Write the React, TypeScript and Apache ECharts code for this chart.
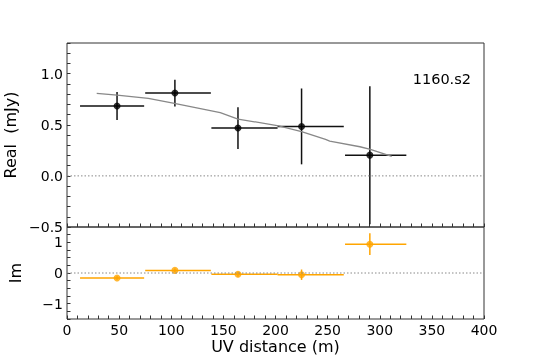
import React, { useEffect, useRef } from "react";
import * as echarts from "echarts";

// Binned visibilities
const uvDist = [48, 103.5, 164, 225, 290.5];
const binLo = [12.5, 75, 138.5, 202, 266.7];
const binHi = [74, 138, 202, 265.5, 325.5];
const realVals = [0.683, 0.81, 0.468, 0.484, 0.203];
const realErr = [0.137, 0.131, 0.204, 0.371, 0.675];
const imagVals = [-0.164, 0.085, -0.04, -0.056, 0.94];
const imagErr = [0.06, 0.06, 0.08, 0.17, 0.355];

// Model curve (real part)
const modelUV = [28.5, 48, 78, 103, 147, 164, 203, 225, 248, 252, 281, 291, 311.5];
const modelReal = [0.808, 0.79, 0.759, 0.71, 0.618, 0.556, 0.49, 0.432, 0.357, 0.34, 0.285, 0.26, 0.19];

const sourceName = "1160.s2";
const xTitle = "UV distance (m)";
const yTitleTop = "Real  (mJy)";
const yTitleBottom = "Im";

const FONT = "DejaVu Sans";
const MINUS = "\u2212";

function errRender(color: string) {
  return (params: any, api: any) => {
    const x = api.value(0);
    const y = api.value(1);
    const xlo = api.value(2);
    const xhi = api.value(3);
    const ylo = api.value(4);
    const yhi = api.value(5);
    const pL = api.coord([xlo, y]);
    const pR = api.coord([xhi, y]);
    const pB = api.coord([x, ylo]);
    const pT = api.coord([x, yhi]);
    const style = { stroke: color, lineWidth: 1.5 };
    return {
      type: "group",
      children: [
        { type: "line", shape: { x1: pL[0], y1: pL[1], x2: pR[0], y2: pR[1] }, style },
        { type: "line", shape: { x1: pB[0], y1: pB[1], x2: pT[0], y2: pT[1] }, style },
      ],
    };
  };
}

export default function App() {
  const ref = useRef<HTMLDivElement>(null);
  useEffect(() => {
    if (!ref.current) return;
    const chart = echarts.init(ref.current, undefined, { renderer: "svg" });

    const realErrData = uvDist.map((x, i) => [x, realVals[i], binLo[i], binHi[i], realVals[i] - realErr[i], realVals[i] + realErr[i]]);
    const imagErrData = uvDist.map((x, i) => [x, imagVals[i], binLo[i], binHi[i], imagVals[i] - imagErr[i], imagVals[i] + imagErr[i]]);

    const tickCommon = { show: true, inside: true, length: 3.5, lineStyle: { color: "#333", width: 1 } };
    const labelCommon = { color: "#000", fontSize: 14, fontFamily: FONT, margin: 4 };
    const noLine = { show: false, onZero: false };

    const xFmt = (v: number) => (Math.abs(v / 50 - Math.round(v / 50)) < 1e-6 ? String(Math.round(v)) : "");
    const yTopFmt = (v: number) => {
      const k = v * 2;
      if (Math.abs(k - Math.round(k)) > 1e-6) return "";
      const r = Math.round(k) / 2;
      return (r < 0 ? MINUS : "") + Math.abs(r).toFixed(1);
    };
    const yBotFmt = (v: number) => {
      if (Math.abs(v - Math.round(v)) > 1e-6) return "";
      const r = Math.round(v);
      return (r < 0 ? MINUS : "") + String(Math.abs(r));
    };

    chart.setOption({
      animation: false,
      grid: [
        { left: 67, right: 54, top: 43, height: 184, show: true, borderColor: "#333", borderWidth: 1, backgroundColor: "transparent", containLabel: false, outerBoundsMode: "none" },
        { left: 67, right: 54, top: 227, height: 92, show: true, borderColor: "#333", borderWidth: 1, backgroundColor: "transparent", containLabel: false, outerBoundsMode: "none" },
      ],
      xAxis: [
        {
          type: "value", gridIndex: 0, min: 0, max: 400, interval: 10,
          axisLine: noLine, axisTick: tickCommon, axisLabel: { show: false },
          splitLine: { show: false },
        },
        {
          type: "value", gridIndex: 1, min: 0, max: 400, interval: 10,
          axisLine: noLine, axisTick: tickCommon,
          axisLabel: { ...labelCommon, formatter: xFmt },
          splitLine: { show: false },
          name: xTitle, nameLocation: "middle", nameGap: 19,
          nameTextStyle: { color: "#000", fontSize: 16, fontFamily: FONT },
        },
      ],
      yAxis: [
        {
          type: "value", gridIndex: 0, min: -0.5, max: 1.3, interval: 0.1,
          axisLine: noLine, axisTick: tickCommon,
          axisLabel: { ...labelCommon, formatter: yTopFmt },
          splitLine: { show: false },
          name: yTitleTop, nameLocation: "middle", nameGap: 44,
          nameTextStyle: { color: "#000", fontSize: 16, fontFamily: FONT },
        },
        {
          type: "value", gridIndex: 1, min: -1.5, max: 1.5, interval: 0.25,
          axisLine: noLine, axisTick: tickCommon,
          axisLabel: { ...labelCommon, formatter: yBotFmt },
          splitLine: { show: false },
          name: yTitleBottom, nameLocation: "middle", nameGap: 44,
          nameTextStyle: { color: "#000", fontSize: 16, fontFamily: FONT },
        },
      ],
      graphic: [
        {
          type: "text", right: 538 - 471, top: 71,
          style: { text: sourceName, fill: "#000", fontSize: 14.5, fontFamily: FONT },
        },
      ],
      series: [
        {
          type: "line", xAxisIndex: 0, yAxisIndex: 0, data: [[0, 0], [400, 0]],
          symbol: "none", silent: true,
          lineStyle: { color: "#888", width: 1, type: [1.5, 2] },
        },
        {
          type: "line", xAxisIndex: 1, yAxisIndex: 1, data: [[0, 0], [400, 0]],
          symbol: "none", silent: true,
          lineStyle: { color: "#888", width: 1, type: [1.5, 2] },
        },
        {
          type: "line", xAxisIndex: 0, yAxisIndex: 0,
          data: modelUV.map((x, i) => [x, modelReal[i]]),
          symbol: "none", lineStyle: { color: "#888", width: 1.3 },
        },
        {
          type: "custom", xAxisIndex: 0, yAxisIndex: 0, data: realErrData,
          encode: { x: [0, 2, 3], y: [1, 4, 5] },
          renderItem: errRender("#111"),
        },
        {
          type: "custom", xAxisIndex: 1, yAxisIndex: 1, data: imagErrData,
          encode: { x: [0, 2, 3], y: [1, 4, 5] },
          renderItem: errRender("#FFA500"),
        },
        {
          type: "scatter", xAxisIndex: 0, yAxisIndex: 0,
          data: uvDist.map((x, i) => [x, realVals[i]]),
          symbolSize: 7, itemStyle: { color: "#000" },
        },
        {
          type: "scatter", xAxisIndex: 1, yAxisIndex: 1,
          data: uvDist.map((x, i) => [x, imagVals[i]]),
          symbolSize: 7, itemStyle: { color: "#FFA500" },
        },
      ],
    });
    return () => chart.dispose();
  }, []);
  return <div ref={ref} style={{ position: "fixed", left: 0, top: 0, width: 538, height: 359 }} />;
}
